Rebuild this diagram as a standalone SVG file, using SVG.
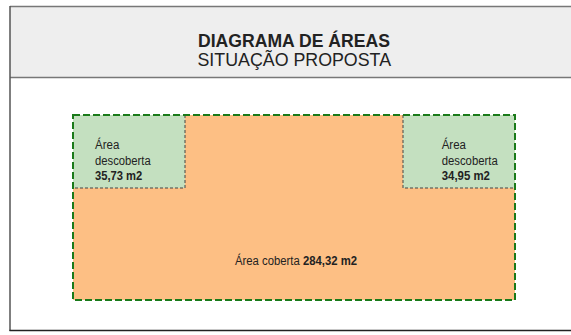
<svg xmlns="http://www.w3.org/2000/svg" width="571" height="335" viewBox="0 0 571 335">
<style>
.t{font-family:"Liberation Sans",Arial,sans-serif;fill:#222}
.lbl{font-size:12.5px}
.b{font-weight:bold}
.inner{stroke:#444;stroke-width:1;stroke-dasharray:3 2;fill:none}
</style>
<rect x="0" y="0" width="571" height="335" fill="#ffffff"/>
<g id="frame">
<rect x="10" y="6.5" width="570" height="71" fill="#eeeeee"/>
<rect x="10" y="77.5" width="570" height="253" fill="#ffffff"/>
<line x1="10" y1="6.5" x2="571" y2="6.5" stroke="#777" stroke-width="1.5"/>
<line x1="10" y1="77.5" x2="571" y2="77.5" stroke="#777" stroke-width="1.5"/>
<line x1="10" y1="6" x2="10" y2="331" stroke="#555" stroke-width="1.5"/>
<line x1="9.5" y1="330.5" x2="571" y2="330.5" stroke="#222" stroke-width="1.5"/>
<text class="t b" x="198" y="46.5" font-size="17.6" textLength="192" lengthAdjust="spacingAndGlyphs">DIAGRAMA DE ÁREAS</text>
<text class="t" x="197.5" y="66" font-size="17.6" textLength="193.5" lengthAdjust="spacingAndGlyphs">SITUAÇÃO PROPOSTA</text>
</g>
<g id="coberta">
<polygon points="73,115 515,115 515,300 73,300" fill="#fdbf84"/>
<text class="t lbl" x="235" y="264.5" textLength="64.7" lengthAdjust="spacingAndGlyphs">Área coberta</text>
<text class="t lbl b" x="303" y="264.5" textLength="54" lengthAdjust="spacingAndGlyphs">284,32 m2</text>
</g>
<g id="descoberta-esq">
<rect x="73" y="115" width="112" height="73" fill="#c4e0c0"/>
<polyline class="inner" points="185,115 185,188 73,188"/>
<text class="t lbl" x="95" y="149" textLength="24.3" lengthAdjust="spacingAndGlyphs">Área</text>
<text class="t lbl" x="95" y="164.5" textLength="55.7" lengthAdjust="spacingAndGlyphs">descoberta</text>
<text class="t lbl b" x="95" y="180" textLength="47.3" lengthAdjust="spacingAndGlyphs">35,73 m2</text>
</g>
<g id="descoberta-dir">
<rect x="403" y="115" width="112" height="73" fill="#c4e0c0"/>
<polyline class="inner" points="403,115 403,188 515,188"/>
<text class="t lbl" x="441.7" y="149" textLength="24.3" lengthAdjust="spacingAndGlyphs">Área</text>
<text class="t lbl" x="441.7" y="164.5" textLength="56" lengthAdjust="spacingAndGlyphs">descoberta</text>
<text class="t lbl b" x="441.7" y="180" textLength="48.3" lengthAdjust="spacingAndGlyphs">34,95 m2</text>
</g>
<g id="limite">
<rect x="73" y="115" width="442" height="185" fill="none" stroke="#1a7a1a" stroke-width="2" stroke-dasharray="7 3"/>
</g>
</svg>
